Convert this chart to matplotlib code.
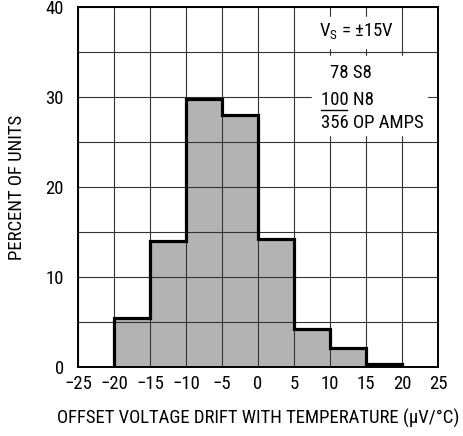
import numpy as np
import matplotlib.pyplot as plt
from matplotlib.patches import Rectangle

plt.rcParams['font.family'] = ['Roboto Condensed', 'Liberation Sans', 'DejaVu Sans']
plt.rcParams['mathtext.fontset'] = 'custom'
plt.rcParams['mathtext.rm'] = 'Roboto Condensed'

edges = [-20, -15, -10, -5, 0, 5, 10, 15, 20]
percent = [5.5, 14.0, 29.8, 28.0, 14.2, 4.2, 2.1, 0.3]
xticks = [-25, -20, -15, -10, -5, 0, 5, 10, 15, 20, 25]
yticks = [0, 10, 20, 30, 40]

fig = plt.figure(figsize=(4.64, 4.36), dpi=100)
ax = fig.add_axes([78 / 464, 1 - 367 / 436, 360 / 464, 360 / 436])

# grey histogram body, grid over it, thick outline on top
ax.stairs(percent, edges, fill=True, color='#b3b3b3', zorder=1)
for gx in np.arange(-25, 26, 5):
    ax.axvline(gx, color='#333333', lw=0.8, zorder=1.5)
for gy in np.arange(0, 41, 5):
    ax.axhline(gy, color='#333333', lw=0.8, zorder=1.5)
ax.stairs(percent, edges, fill=False, color='black', lw=2.3, baseline=0, zorder=3)

# white masks behind the notes
ax.add_patch(Rectangle((8.3, 35.4), 11.4, 3.5, color='white', zorder=2))
ax.add_patch(Rectangle((7.5, 25.8), 16.0, 8.8, color='white', zorder=2))

fs = 13.5
ax.text(13.75, 37.2, r'V$_\mathregular{S}$ = ±15V', ha='center', va='center', fontsize=fs, zorder=4)
ax.text(10.0, 32.7, '78 S8', ha='left', va='center', fontsize=fs, zorder=4)
ax.text(8.75, 29.7, '100 N8', ha='left', va='center', fontsize=fs, zorder=4)
ax.text(8.75, 27.1, '356 OP AMPS', ha='left', va='center', fontsize=fs, zorder=4)
ax.plot([8.75, 12.3], [28.55, 28.55], color='black', lw=1.0, zorder=4)

ax.set_xlim(-25, 25)
ax.set_ylim(0, 40)
ax.set_xticks(xticks)
ax.set_xticklabels([str(v).replace('-', '\u2212') for v in xticks])
ax.set_yticks(yticks)
ax.tick_params(length=0, labelsize=fs)
ax.tick_params(axis='x', pad=6)
ax.tick_params(axis='y', pad=10)
for s in ax.spines.values():
    s.set_linewidth(1.4)
    s.set_zorder(5)

ax.set_xlabel('OFFSET VOLTAGE DRIFT WITH TEMPERATURE (\u03bcV/\u00b0C)', fontsize=fs, labelpad=11)
ax.set_ylabel('PERCENT OF UNITS', fontsize=fs, labelpad=14)

fig.savefig('out.png', dpi=100)
